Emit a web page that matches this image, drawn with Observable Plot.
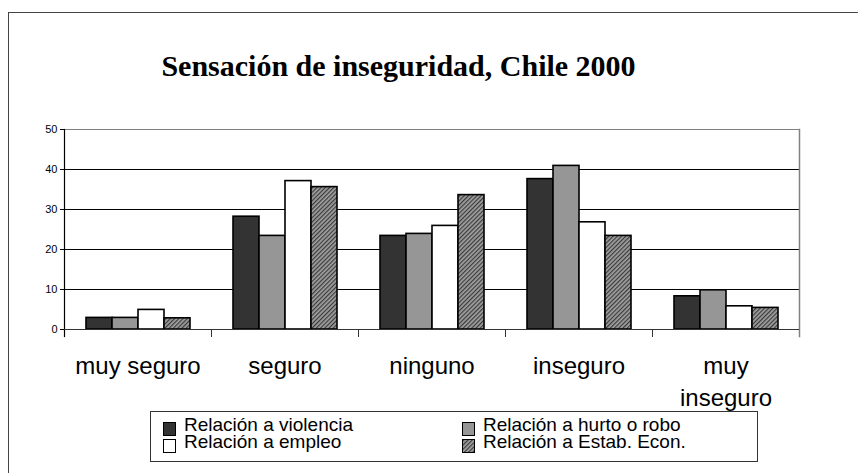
<!DOCTYPE html>
<html>
<head>
<meta charset="utf-8">
<script src="https://cdn.jsdelivr.net/npm/d3@7"></script>
<script src="https://cdn.jsdelivr.net/npm/@observablehq/plot@0.6"></script>
<style>
  html, body { margin: 0; padding: 0; background: #fff; }
  #wrap { position: relative; width: 858px; height: 473px; overflow: hidden; font-family: "Liberation Sans", Arial, sans-serif; }
  #border { position: absolute; left: 8px; top: 12px; width: 900px; height: 500px; border: 1.5px solid #444; box-sizing: border-box; }
  #title { position: absolute; left: 0; top: 51px; width: 797px; text-align: center; font-family: "Liberation Serif", "Times New Roman", serif; font-weight: bold; font-size: 30px; line-height: 30px; color: #000; }
  #chart { position: absolute; left: 0; top: 100px; }
  #legend { position: absolute; left: 150px; top: 411px; width: 608px; height: 51px; border: 1px solid #333; box-sizing: border-box; padding: 5px 0 0 12px; font-size: 19px; line-height: 16px; color: #000; display: grid; grid-template-columns: 299px auto; grid-auto-rows: 17px; }
  .item { position: relative; white-space: nowrap; padding-left: 21px; height: 17px; }
  .sw { position: absolute; left: 0; top: 5px; width: 11px; height: 12px; border: 1px solid #000; }
  .sw svg { display: block; }
</style>
</head>
<body>
<svg width="0" height="0" style="position:absolute">
  <defs>
    <pattern id="hatch" width="3" height="3" patternUnits="userSpaceOnUse" patternTransform="rotate(45)">
      <rect width="3" height="3" fill="#a0a0a0"></rect>
      <rect width="1.2" height="3" fill="#3a3a3a"></rect>
    </pattern>
  </defs>
</svg>
<div id="wrap">
  <div id="border"></div>
  <div id="title">Sensación de inseguridad, Chile 2000</div>
  <div id="chart"></div>
  <div id="legend"></div>
</div>
<script>
const categories = ["muy seguro", "seguro", "ninguno", "inseguro", "muy inseguro"];
const categoryLabels = ["muy seguro", "seguro", "ninguno", "inseguro", "muy\ninseguro"];
const series = ["Relación a violencia", "Relación a hurto o robo", "Relación a empleo", "Relación a Estab. Econ."];
const violencia = [2.9, 28.2, 23.4, 37.6, 8.3];
const hurto = [2.9, 23.4, 23.9, 40.9, 9.8];
const empleo = [4.9, 37.1, 25.9, 26.8, 5.8];
const estab = [2.8, 35.6, 33.6, 23.4, 5.4];
const yTicks = [0, 10, 20, 30, 40, 50];
const fills = ["#333333", "#969696", "#ffffff", "url(#hatch)"];

const valuesBySeries = [violencia, hurto, empleo, estab];
const data = [];
categories.forEach((c, i) => {
  series.forEach((s, j) => data.push({category: c, series: s, value: valuesBySeries[j][i]}));
});
const labelOf = new Map(categories.map((c, i) => [c, categoryLabels[i]]));

const chart = Plot.plot({
  width: 858,
  height: 312,
  marginTop: 29,
  marginBottom: 83,
  marginLeft: 62,
  marginRight: 58,
  style: {fontFamily: "'Liberation Sans', Arial, sans-serif", background: "transparent", overflow: "visible"},
  fx: {domain: categories, paddingInner: 0, paddingOuter: 0, label: null},
  x: {domain: series, paddingInner: 0, paddingOuter: 0.75, axis: null},
  y: {domain: [0, 50], label: null},
  color: {domain: series, range: fills},
  marks: [
    Plot.gridY(yTicks.filter(d => d > 0 && d < 50), {stroke: "#000", strokeOpacity: 1}),
    Plot.gridY([50], {stroke: "#808080", strokeOpacity: 1}),
    Plot.frame({anchor: "left", insetTop: 200, insetBottom: -7, stroke: "#333"}),
    Plot.frame({anchor: "right", facetAnchor: "right", stroke: "#808080", strokeWidth: 1.5, insetBottom: -7}),
    Plot.frame({anchor: "left", facetAnchor: "left", stroke: "#000", strokeWidth: 1.2, insetBottom: -7}),
    Plot.barY(data, {fx: "category", x: "series", y: "value", fill: "series", stroke: "#000", strokeWidth: 1.6}),
    Plot.ruleY([0], {stroke: "#333", strokeWidth: 1.2}),
    Plot.axisY({ticks: yTicks, tickSize: 4, tickPadding: 3, fontSize: 11, label: null}),
    Plot.axisFx({anchor: "bottom", tickSize: 0, tickPadding: 22, fontSize: 24, lineHeight: 1.33, label: null, tickFormat: d => labelOf.get(d)})
  ]
});
document.getElementById("chart").appendChild(chart);

const legend = document.getElementById("legend");
series.forEach((s, j) => {
  const item = document.createElement("span");
  item.className = "item";
  const sw = document.createElement("span");
  sw.className = "sw";
  sw.innerHTML = `<svg width="11" height="12"><rect width="11" height="12" fill="${fills[j]}"></rect></svg>`;
  item.appendChild(sw);
  item.appendChild(document.createTextNode(s));
  legend.appendChild(item);
});
</script>
</body>
</html>
